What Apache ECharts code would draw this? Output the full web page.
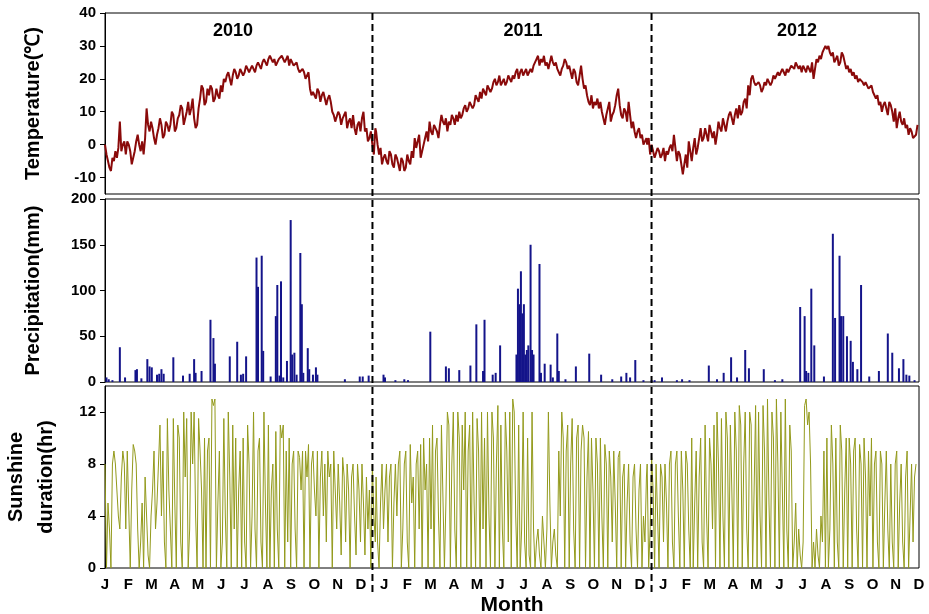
<!DOCTYPE html>
<html>
<head>
<meta charset="utf-8">
<title>Temperature, precipitation and sunshine 2010-2012</title>
<script src="https://cdn.jsdelivr.net/npm/echarts/dist/echarts.min.js"></script>
<style>
  html, body { margin: 0; padding: 0; background: #fff; }
  #main { width: 929px; height: 614px; }
</style>
</head>
<body>
<div id="main"></div>
<script>
  // 月份、年份
  var monthLetters = ['J', 'F', 'M', 'A', 'M', 'J', 'J', 'A', 'S', 'O', 'N', 'D'];
  var years = ['2010', '2011', '2012'];
  var yearLength = [365, 365, 366];

  // 气温 (℃)，每 2 天读一个值
  var tempStep = 2;
  var temp2010 = [0, -3, -5, -7, -8, -4, -5, -2, -4, -1, 7, -2, 0, 1, -3, 1, 0, -2, -6, -4,
    -2, 1, 3, 0, -2, 1, -3, 2, 11, 6, 4, 7, 5, 2, 0, 3, 5, 8, 6, 2,
    3, 7, 6, 4, 6, 10, 9, 4, 5, 8, 9, 12, 11, 6, 8, 10, 13, 9, 11, 14,
    8, 5, 6, 11, 14, 18, 17, 12, 13, 17, 15, 18, 17, 13, 14, 17, 15, 14, 18, 16,
    20, 19, 21, 22, 20, 18, 21, 23, 22, 20, 21, 23, 23, 21, 22, 24, 23, 22, 23, 24,
    24, 22, 24, 25, 24, 23, 25, 26, 25, 24, 26, 27, 27, 25, 26, 24, 24, 26, 26, 27,
    27, 25, 26, 27, 24, 26, 25, 24, 24, 25, 23, 22, 22, 23, 22, 20, 20, 22, 17, 15,
    16, 15, 14, 17, 16, 13, 15, 16, 14, 12, 14, 15, 13, 10, 9, 7, 7, 10, 9, 6,
    8, 9, 10, 5, 7, 8, 5, 9, 5, 3, 6, 7, 4, 8, 10, 4, 5, 1, 2, 4,
    0, -3, 5];
  var temp2011 = [4, 0, -3, -1, -6, -4, -3, -5, -6, -2, -3, -6, -7, -3, -4, -6, -8, -4, -5, -8,
    -7, -3, -5, -6, -2, -4, 2, -1, 1, 3, -4, -2, 0, 2, 4, 1, 7, 4, 3, 6,
    5, 4, 2, 6, 9, 7, 6, 8, 4, 7, 6, 9, 8, 6, 9, 7, 10, 8, 9, 11,
    12, 10, 11, 13, 13, 11, 12, 15, 14, 13, 16, 14, 17, 16, 15, 18, 18, 16, 17, 19,
    20, 18, 19, 21, 18, 19, 20, 18, 19, 21, 20, 19, 21, 20, 22, 23, 20, 22, 23, 21,
    22, 23, 21, 22, 23, 22, 24, 25, 26, 27, 24, 26, 25, 27, 24, 25, 23, 25, 27, 25,
    24, 25, 23, 22, 21, 23, 24, 26, 25, 23, 24, 22, 20, 23, 22, 19, 18, 21, 24, 20,
    17, 18, 15, 13, 12, 15, 11, 13, 12, 14, 11, 13, 10, 8, 6, 9, 11, 13, 7, 9,
    10, 12, 15, 17, 12, 9, 8, 11, 10, 7, 13, 9, 5, 7, 4, 2, 4, 5, 2, 3,
    0, 1, 2];
  var temp2012 = [0, 2, -3, 0, -2, -4, -4, -1, -2, -4, -3, -1, -5, -2, -3, -1, 0, -2, 3, -1,
    -5, -2, -3, -6, -9, -6, -3, -7, 1, -2, -5, -1, 2, -3, -1, 2, 5, 1, 2, 5,
    3, 1, 6, 4, 2, 4, 0, 3, 7, 5, 4, 8, 6, 4, 7, 9, 10, 8, 6, 9,
    11, 8, 12, 9, 10, 13, 14, 11, 18, 15, 20, 21, 19, 18, 18, 19, 18, 16, 17, 19,
    18, 20, 20, 18, 19, 21, 20, 21, 22, 21, 21, 23, 22, 21, 23, 22, 23, 24, 24, 23,
    25, 24, 23, 24, 22, 24, 23, 22, 24, 23, 22, 25, 20, 23, 26, 25, 27, 26, 28, 29,
    30, 29, 30, 28, 27, 28, 25, 26, 27, 24, 25, 28, 27, 25, 23, 24, 22, 23, 21, 22,
    20, 21, 19, 20, 20, 19, 18, 19, 18, 17, 17, 18, 16, 15, 14, 15, 12, 13, 10, 12,
    13, 11, 9, 13, 12, 10, 7, 11, 5, 8, 10, 7, 6, 8, 5, 6, 3, 5, 4, 2,
    2, 3, 6];

  // 降水 (mm)：[年内第几天, 降水量]
  var rain2010 = [[2, 5], [5, 3], [10, 2], [20, 38], [27, 5], [41, 13], [43, 14], [49, 4],
    [57, 25], [60, 17], [63, 16], [70, 8], [73, 9], [76, 14], [79, 9], [92, 27], [105, 7],
    [114, 9], [120, 25], [122, 10], [130, 12], [142, 68], [146, 48], [148, 20], [168, 28],
    [178, 44], [183, 8], [186, 9], [190, 28], [204, 136], [206, 104], [211, 138], [213, 34],
    [223, 6], [230, 72], [232, 106], [235, 7], [237, 110], [240, 5], [245, 23], [250, 177],
    [252, 30], [255, 32], [258, 8], [263, 141], [265, 85], [267, 10], [273, 37], [275, 14],
    [280, 8], [284, 16], [286, 8], [323, 3], [343, 6], [347, 6], [355, 7]];
  var rain2011 = [[10, 8], [12, 5], [26, 2], [38, 3], [43, 2], [73, 55], [94, 17], [98, 15],
    [112, 13], [127, 18], [135, 63], [144, 12], [146, 68], [157, 8], [161, 10], [167, 40],
    [189, 30], [191, 102], [193, 85], [195, 121], [197, 75], [199, 85], [201, 30], [203, 35],
    [205, 40], [208, 150], [210, 35], [212, 30], [220, 129], [222, 10], [227, 20], [235, 19],
    [238, 5], [244, 53], [246, 12], [255, 3], [269, 17], [287, 31], [303, 8], [318, 3],
    [330, 6], [337, 10], [342, 5], [349, 24], [360, 2]];
  var rain2012 = [[6, 2], [10, 2], [20, 5], [40, 2], [47, 3], [57, 2], [83, 18], [94, 3],
    [103, 10], [113, 27], [121, 5], [132, 35], [137, 15], [157, 14], [172, 2], [182, 3],
    [206, 82], [212, 72], [214, 12], [217, 10], [221, 102], [225, 40], [238, 6], [250, 162],
    [253, 70], [259, 138], [261, 72], [264, 72], [269, 50], [274, 45], [277, 22], [283, 14],
    [288, 106], [299, 6], [312, 12], [324, 53], [330, 32], [339, 15], [345, 25], [349, 8],
    [353, 7], [360, 2]];

  // 日照时数 (hr)，每 2 天读一个值
  var sunStep = 2;
  var sun2010 = [8, 0, 5, 3, 0, 8, 9, 8, 6, 4, 3, 7, 9, 8, 3, 9,
    9, 0, 6, 9.5, 9, 8, 3, 0, 2, 5, 0, 7, 4, 1,
    0, 4, 6, 9, 3, 5, 8, 11, 4, 9, 2, 0, 11.5, 6, 3,
    0, 11.5, 5, 0, 11, 10, 2, 0, 12, 7, 11.5, 0, 3, 12, 8,
    12, 4, 0, 11.5, 9, 6, 0, 10, 0, 9, 10, 0, 13, 12.5, 13, 0,
    5, 9, 0, 2, 11.5, 4, 0, 12, 7, 0, 11, 3, 10, 0, 6,
    9, 0, 10, 2, 0, 11, 8, 0, 4, 12, 3, 0, 9, 10, 2, 0,
    12, 5, 0, 11, 0, 6, 8, 0, 10.5, 3, 0, 11, 10, 11, 0,
    9, 2, 10, 0, 8, 9, 3, 0, 9, 8.5, 6, 9, 0, 9, 7,
    9.5, 0, 8, 9, 6, 4, 9, 0, 7, 9, 4, 8, 2, 9, 7,
    8, 0, 9, 6, 3, 8, 5, 1, 8.5, 7, 2, 8, 6, 0, 7,
    8, 4, 1, 8, 6, 2, 8, 5, 1, 7, 3, 6, 0, 8, 4, 2];
  var sun2011 = [7, 2, 0, 5, 8, 3, 6, 8, 2, 7, 8, 0, 5, 8, 4, 8,
    9, 0, 3, 8, 9, 2, 0, 9.5, 5, 7, 0, 8, 9, 3,
    9.5, 0, 10, 6, 8, 0, 10, 3, 11, 0, 9, 10, 4, 0, 11,
    11, 0, 5, 12, 11, 0, 8, 12, 3, 0, 12, 10, 0, 11, 6,
    12, 0, 9, 11, 0, 12, 5, 0, 11.5, 9, 0, 12, 3, 10, 0, 12,
    4, 0, 12, 10, 0, 8, 12.5, 0, 11, 3, 0, 12, 9, 2, 12,
    0, 13, 12, 4, 0, 11, 0, 3, 12, 2, 0, 10, 1, 0, 12, 3,
    0, 2, 3, 1, 0, 4, 2, 0, 3, 12, 5, 0, 2, 3, 1,
    0, 9, 4, 12, 10, 0, 9, 11, 0, 8, 11.5, 3, 0, 10, 11,
    0, 9, 11, 10, 0, 7, 10.5, 0, 10, 6, 0, 10, 8, 0, 10,
    4, 0, 9.5, 8, 0, 9, 7, 2, 9, 5, 0, 8.5, 9, 0, 7,
    8, 0, 5, 8, 2, 0, 7, 8, 3, 0, 6, 8, 0, 4, 2, 7];
  var sun2012 = [8, 0, 3, 8.5, 6, 0, 8, 4, 0, 8, 7, 2, 8, 5, 0, 8,
    9, 2, 0, 8, 9, 4, 0, 9, 6, 0, 9, 8, 3, 0,
    10, 0, 5, 9, 0, 7, 10, 2, 0, 11, 4, 0, 10, 8, 3,
    11, 0, 12, 8, 0, 11.5, 4, 0, 12, 10, 0, 11, 6, 0, 12,
    9, 0, 12.5, 11, 0, 8, 12, 3, 0, 12, 11, 0, 6, 12.5, 0,
    12, 4, 0, 12.5, 9, 0, 13, 5, 0, 12, 10, 0, 13, 8, 0,
    12, 6, 0, 13, 3, 0, 11, 9, 0, 2, 5, 0, 3, 1, 0, 2,
    12.5, 13, 11, 12, 8, 0, 2, 0, 3, 1, 0, 4, 2, 9, 0,
    10, 0, 3, 11, 8, 0, 10, 2, 0, 11, 9, 0, 6, 10, 0,
    10, 8, 0, 9, 10, 3, 0, 9.5, 8, 0, 10, 7, 0, 9, 4,
    10, 0, 8, 9, 2, 0, 9, 8, 0, 5, 9, 3, 0, 8, 2,
    0, 8, 9, 0, 5, 8, 2, 0, 7, 9, 0, 4, 8, 2, 7, 8];

  // 按年拼成 [第几天, 值]
  function byStep(list, step) {
    var out = [];
    var offset = 0;
    list.forEach(function (arr, k) {
      arr.forEach(function (v, i) {
        out.push([offset + i * step, v]);
      });
      offset += yearLength[k];
    });
    return out;
  }
  function byDay(list) {
    var out = [];
    var offset = 0;
    list.forEach(function (arr, k) {
      arr.forEach(function (p) {
        out.push([offset + p[0], p[1]]);
      });
      offset += yearLength[k];
    });
    return out;
  }

  var totalDays = yearLength[0] + yearLength[1] + yearLength[2];
  var monthAxisData = [];
  years.forEach(function () {
    monthLetters.forEach(function (m) { monthAxisData.push(m); });
  });

  var labelFont = { color: '#000', fontWeight: 'bold', fontSize: 15, fontFamily: 'Liberation Sans, Arial' };
  var nameFont = { color: '#000', fontWeight: 'bold', fontSize: 20, fontFamily: 'Liberation Sans, Arial' };

  function gridBox(top, height) {
    return {
      left: 105, right: 10, top: top, height: height,
      outerBoundsMode: 'none', containLabel: false,
      show: true, borderColor: '#000', borderWidth: 1, backgroundColor: 'transparent'
    };
  }
  function dayAxis(i) {
    return {
      type: 'value', gridIndex: i, min: 0, max: totalDays, position: 'bottom',
      axisLine: { show: false }, axisTick: { show: false },
      axisLabel: { show: false }, splitLine: { show: false }
    };
  }
  function leftAxis(i, opt) {
    return Object.assign({
      type: 'value', gridIndex: i,
      nameLocation: 'middle', nameTextStyle: nameFont,
      axisLine: { show: true, lineStyle: { color: '#000', width: 1 } },
      axisTick: { show: true, length: 5, lineStyle: { color: '#000' } },
      axisLabel: Object.assign({ margin: 9 }, labelFont),
      splitLine: { show: false }
    }, opt);
  }

  var myChart = echarts.init(document.getElementById('main'));
  myChart.setOption({
    animation: false,
    backgroundColor: '#fff',
    grid: [gridBox(13, 181), gridBox(199, 183), gridBox(386, 182)],
    xAxis: [
      dayAxis(0), dayAxis(1), dayAxis(2),
      {
        type: 'category', gridIndex: 2, position: 'bottom',
        data: monthAxisData, boundaryGap: false,
        axisLine: { show: false }, axisTick: { show: false },
        axisLabel: Object.assign({ interval: 0, margin: 9 }, labelFont),
        name: 'Month', nameLocation: 'middle', nameGap: 27,
        nameTextStyle: { color: '#000', fontWeight: 'bold', fontSize: 21, fontFamily: 'Liberation Sans, Arial' }
      }
    ],
    yAxis: [
      leftAxis(0, { min: -15, max: 40, splitNumber: 5, name: 'Temperature(℃)', nameGap: 62,
        axisLabel: Object.assign({ margin: 9, showMinLabel: false }, labelFont) }),
      leftAxis(1, { min: 0, max: 200, interval: 50, name: 'Precipitation(mm)', nameGap: 62 }),
      leftAxis(2, { min: 0, max: 14, interval: 4, name: 'Sunshine\nduration(hr)', nameGap: 44,
        nameTextStyle: Object.assign({ lineHeight: 30 }, nameFont),
        axisLabel: Object.assign({ margin: 9, showMaxLabel: false }, labelFont) })
    ],
    series: [
      {
        name: 'Temperature', type: 'line', xAxisIndex: 0, yAxisIndex: 0,
        data: byStep([temp2010, temp2011, temp2012], tempStep),
        showSymbol: false, lineStyle: { color: '#8a0a0a', width: 2 }
      },
      {
        name: 'Precipitation', type: 'bar', xAxisIndex: 1, yAxisIndex: 1,
        data: byDay([rain2010, rain2011, rain2012]),
        barWidth: 2, itemStyle: { color: '#14148a' }
      },
      {
        name: 'Sunshine', type: 'line', xAxisIndex: 2, yAxisIndex: 2,
        data: byStep([sun2010, sun2011, sun2012], sunStep),
        showSymbol: false, lineStyle: { color: '#939a1c', width: 1 }
      }
    ]
  });

  // 年份分隔虚线和年份标注
  var graphics = [];
  var topY = myChart.convertToPixel({ yAxisIndex: 0 }, 40);
  var bottomY = myChart.convertToPixel({ yAxisIndex: 2 }, 0) + 24;
  [11, 23].forEach(function (idx) {
    var x = (myChart.convertToPixel({ xAxisIndex: 3 }, idx) + myChart.convertToPixel({ xAxisIndex: 3 }, idx + 1)) / 2;
    graphics.push({
      type: 'line', z: 10,
      shape: { x1: x, y1: topY, x2: x, y2: bottomY },
      style: { stroke: '#000', lineWidth: 2, lineDash: [7, 4] }
    });
  });
  var yearX = [233, 523, 797];
  years.forEach(function (y, k) {
    graphics.push({
      type: 'text', x: yearX[k], y: 31, z: 10,
      style: { text: y, fill: '#000', font: 'bold 18px Liberation Sans, Arial', textAlign: 'center', textVerticalAlign: 'middle' }
    });
  });
  myChart.setOption({ graphic: graphics });
</script>
</body>
</html>
